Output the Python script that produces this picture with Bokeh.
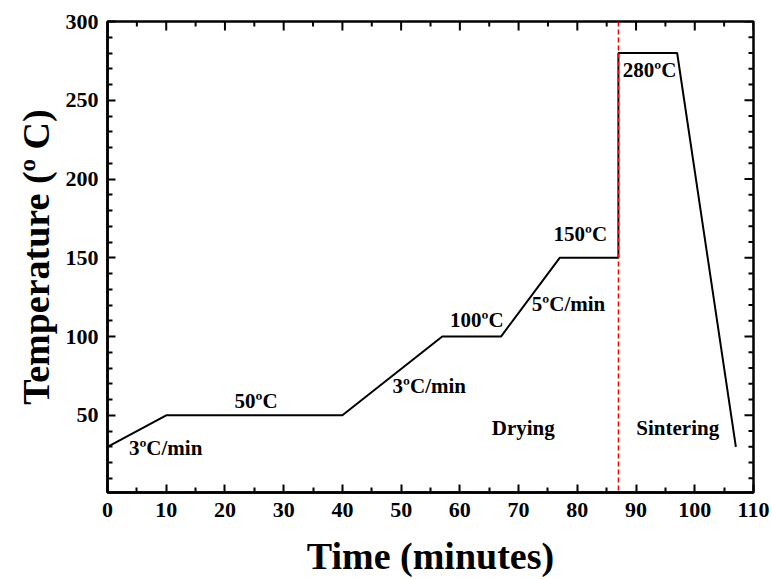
import math
from bokeh.plotting import figure
from bokeh.models import Range1d, FixedTicker, Span, ColumnDataSource
from bokeh.core.properties import value
from bokeh.embed import file_html
from bokeh.resources import INLINE

# ---- data ----
time_min = [0, 10, 40, 57, 67, 77, 87, 87, 97, 107]
temperature = [30, 50, 50, 100, 100, 150, 150, 280, 280, 30]
boundary_time = 87

ann_text = ["3ºC/min", "50ºC", "3ºC/min", "100ºC", "5ºC/min", "150ºC", "280ºC", "Drying", "Sintering"]
ann_x = [9.9, 25.3, 54.8, 62.9, 78.5, 80.5, 92.3, 70.8, 97.1]
ann_y = [29.3, 59.1, 68.7, 110.4, 120.6, 165.3, 268.9, 42.2, 42.2]

x_ticks = [0, 10, 20, 30, 40, 50, 60, 70, 80, 90, 100, 110]
x_minor = [5, 15, 25, 35, 45, 55, 65, 75, 85, 95, 105]
y_ticks = [50, 100, 150, 200, 250, 300]
y_minor = [10, 20, 30, 40, 60, 70, 80, 90, 110, 120, 130, 140, 160, 170, 180, 190,
           210, 220, 230, 240, 260, 270, 280, 290]

x_label = "Time (minutes)"
y_label = "Temperature (º C)"

X_MIN, X_MAX = 0, 110
Y_MIN, Y_MAX = 1, 300

FONT = "Liberation Serif"

p = figure(width=772, height=579, x_range=Range1d(X_MIN, X_MAX), y_range=Range1d(Y_MIN, Y_MAX),
           output_backend="svg", toolbar_location=None,
           min_border_left=107, min_border_top=21, min_border_right=19, min_border_bottom=87)
p.xgrid.visible = False
p.ygrid.visible = False
p.outline_line_color = "black"
p.outline_line_width = 2.5
p.background_fill_color = "white"
p.border_fill_color = "white"

for ax, ticks, minor in ((p.xaxis[0], x_ticks, x_minor), (p.yaxis[0], y_ticks, y_minor)):
    ax.ticker = FixedTicker(ticks=ticks, minor_ticks=minor)
    ax.axis_line_width = 2.5
    ax.axis_line_color = "black"
    ax.major_tick_in = 8
    ax.major_tick_out = 0
    ax.minor_tick_in = 5
    ax.minor_tick_out = 0
    ax.major_tick_line_width = 2
    ax.minor_tick_line_width = 2
    ax.major_label_text_font = FONT
    ax.major_label_text_font_style = "bold"
    ax.major_label_text_font_size = "22px"
    ax.major_label_text_color = "black"
    ax.axis_label_text_font = FONT
    ax.axis_label_text_font_style = "bold"
    ax.axis_label_text_font_size = "38px"
    ax.axis_label_text_color = "black"

p.xaxis[0].axis_label = x_label
p.yaxis[0].axis_label = y_label
p.xaxis[0].major_label_standoff = 10
p.yaxis[0].major_label_standoff = 9
p.xaxis[0].axis_label_standoff = 15
p.yaxis[0].axis_label_standoff = 6

# mirrored ticks on top and right edges (half of each dash is clipped by the frame)
p.scatter(x_ticks, [Y_MAX] * len(x_ticks), marker="dash", size=18, angle=math.pi / 2,
          line_color="black", line_width=2)
p.scatter(x_minor, [Y_MAX] * len(x_minor), marker="dash", size=10, angle=math.pi / 2,
          line_color="black", line_width=2)
p.scatter([X_MAX] * len(y_ticks), y_ticks, marker="dash", size=18,
          line_color="black", line_width=2)
p.scatter([X_MAX] * len(y_minor), y_minor, marker="dash", size=10,
          line_color="black", line_width=2)

# temperature profile
p.line(time_min, temperature, line_color="black", line_width=2)

# drying / sintering boundary
p.add_layout(Span(location=boundary_time, dimension="height", line_color="red",
                  line_dash="5 3", line_width=1.5))

# annotations
src = ColumnDataSource(dict(x=ann_x, y=ann_y, t=ann_text))
p.text(x="x", y="y", text="t", source=src, text_font=value(FONT), text_font_style="bold",
       text_font_size="21px", text_align="center", text_baseline="middle", text_color="black")

open("out.html", "w").write(file_html(p, INLINE))
